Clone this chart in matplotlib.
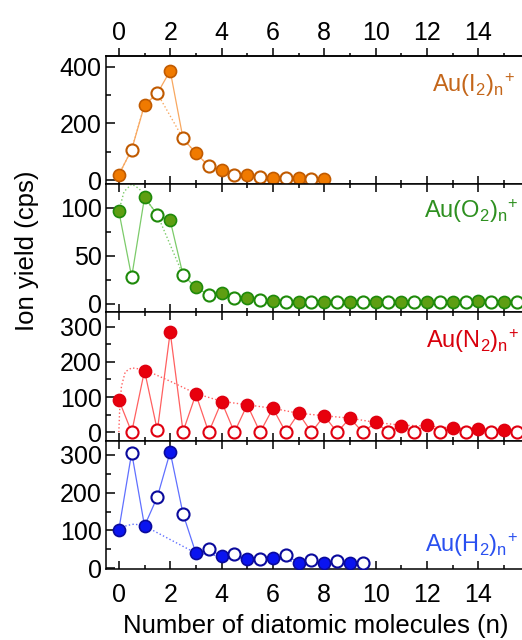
"""
Ion yield of Au cluster complexes vs number of diatomic molecules.
"""

import matplotlib.pyplot as plt

plt.rcParams["font.family"] = ["Liberation Sans", "DejaVu Sans"]
plt.rcParams["mathtext.fontset"] = "custom"
plt.rcParams["mathtext.rm"] = "Liberation Sans"
plt.rcParams["mathtext.it"] = "Liberation Sans"

# data (n in steps of 0.5; integer n filled, half-integer n open)
n_i2 = [0, 0.5, 1, 1.5, 2, 2.5, 3, 3.5, 4, 4.5, 5, 5.5, 6, 6.5, 7, 7.5, 8]
y_i2 = [19, 108, 265, 306, 386, 147, 95, 50, 37, 19, 17, 12, 8, 6, 6, 5, 4]
trend_i2_x = [0, 0.5, 1, 1.5, 2.5, 3, 3.5, 4, 4.5, 5, 5.5, 6, 6.5, 7, 7.5, 8]
trend_i2_y = [19, 108, 265, 306, 147, 95, 50, 37, 19, 17, 12, 8, 6, 6, 5, 4]

n_o2 = [0, 0.5, 1, 1.5, 2, 2.5, 3, 3.5, 4, 4.5, 5, 5.5, 6, 6.5, 7, 7.5, 8,
        8.5, 9, 9.5, 10, 10.5, 11, 11.5, 12, 12.5, 13, 13.5, 14, 14.5, 15, 15.5]
y_o2 = [96.5, 28, 111, 93, 87, 30, 17, 9.4, 11, 5.6, 5.9, 3.5, 3, 2, 2, 2, 2,
        2, 2, 2, 2, 2, 2, 2, 1.5, 2, 1.5, 2, 2.5, 2, 2, 2]
trend_o2_x = [0, 0.2, 0.5, 0.8, 1, 1.5, 2.5, 3, 3.5, 4, 4.5, 5, 5.5, 6, 7, 8,
              9, 10, 11, 12, 13, 14, 15, 15.5]
trend_o2_y = [96.5, 117, 125, 120, 111, 93, 30, 17, 9.4, 11, 5.6, 5.9, 3.5, 3,
              2, 2, 2, 2, 2, 1.5, 1.5, 2.5, 2, 2]

n_n2 = [0, 0.5, 1, 1.5, 2, 2.5, 3, 3.5, 4, 4.5, 5, 5.5, 6, 6.5, 7, 7.5, 8,
        8.5, 9, 9.5, 10, 10.5, 11, 11.5, 12, 12.5, 13, 13.5, 14, 14.5, 15, 15.5]
y_n2 = [92, 0, 175, 5, 285, 2, 108, 0, 87, 0, 78, 0, 68, 0, 54, 0, 47,
        0, 40, 0, 28, 0, 19, 0, 22, 0, 12, 0, 9, 0, 7, 0]
trend_n2_x = [0, 0.03, 0.1, 0.25, 0.5, 1, 2, 3, 4, 5, 6, 7, 8, 9, 10, 11, 12,
              13, 14, 15, 15.7]
trend_n2_y = [0, 60, 130, 172, 183, 178, 145, 110, 88, 78, 68, 54, 47, 40, 28,
              20, 18, 12, 9, 7, 5]

n_h2 = [0, 0.5, 1, 1.5, 2, 2.5, 3, 3.5, 4, 4.5, 5, 5.5, 6, 6.5, 7, 7.5, 8,
        8.5, 9, 9.5]
y_h2 = [102, 306, 112, 189, 308, 144, 40, 51, 32, 37, 24, 25, 27, 35, 15, 23,
        14, 18, 14, 14]
trend_h2_x = [0, 0.3, 0.6, 1, 3, 4, 5, 6, 7, 8, 9]
trend_h2_y = [102, 113, 117, 112, 40, 32, 24, 27, 15, 14, 14]

panels = [
    # n, y, trend x, trend y, fill, edge, line, text colour, label, ylim, yticks, minor step
    (n_i2, y_i2, trend_i2_x, trend_i2_y, "#F07A00", "#C05A00", "#F8A860",
     "#C4661A", r"Au(I$_2$)$_n$$^{\!+}$", (-14, 439), [0, 200, 400], 100),
    (n_o2, y_o2, trend_o2_x, trend_o2_y, "#5E9E12", "#1E8A0A", "#7CCB6A",
     "#2E9020", r"Au(O$_2$)$_n$$^{\!+}$", (-9, 125), [0, 50, 100], 25),
    (n_n2, y_n2, trend_n2_x, trend_n2_y, "#E8000C", "#E00010", "#FF6060",
     "#D8000C", r"Au(N$_2$)$_n$$^{\!+}$", (-24, 341), [0, 100, 200, 300], 50),
    (n_h2, y_h2, trend_h2_x, trend_h2_y, "#0A14F0", "#0A0A9C", "#6070FF",
     "#2A50F0", r"Au(H$_2$)$_n$$^{\!+}$", (-2, 338), [0, 100, 200, 300], 50),
]

W, H = 522, 640
fig = plt.figure(figsize=(W / 100, H / 100), dpi=100)

tops = [55.7, 184, 312.3, 440.6]
ph = 128.4
left = 106
label_pos = [(515, 92), (519, 218), (519, 348), (518, 552)]
TS = 18

for i, (n, y, tx, ty, fc, ec, lc, tc, label, ylim, yt, ymin) in enumerate(panels):
    ax = fig.add_axes([left / W, 1 - (tops[i] + ph) / H, (W - left) / W, ph / H])
    ax.plot(n, y, "-", color=lc, lw=0.9, zorder=2)
    ax.plot(tx, ty, ":", color=lc, lw=1.0, zorder=2)
    filled_x = [a for a in n if a == int(a)]
    filled_y = [b for a, b in zip(n, y) if a == int(a)]
    open_x = [a for a in n if a != int(a)]
    open_y = [b for a, b in zip(n, y) if a != int(a)]
    ax.plot(filled_x, filled_y, "o", ms=8.7, mfc=fc, mec=ec, mew=1.2, zorder=3)
    ax.plot(open_x, open_y, "o", ms=8.7, mfc="white", mec=ec, mew=1.5, zorder=3)

    ax.set_xlim(-0.5, 15.7)
    ax.set_ylim(*ylim)
    ax.set_xticks(range(0, 16, 2))
    ax.set_xticks(range(0, 16), minor=True)
    ax.set_yticks(yt)
    ax.set_yticks([v + ymin for v in range(0, int(ylim[1]), ymin)
                   if v + ymin < ylim[1]], minor=True)
    ax.spines["right"].set_visible(False)
    for sp in ax.spines.values():
        sp.set_linewidth(1.1)
    ax.tick_params(axis="y", which="both", direction="in", labelsize=TS,
                   width=1.1, right=False, pad=3)
    ax.tick_params(axis="y", which="major", length=6.5)
    ax.tick_params(axis="y", which="minor", length=3.5)
    ax.tick_params(axis="x", which="both", direction="in", labelsize=TS,
                   width=1.1, top=(i > 0), bottom=True, labelbottom=(i == 3),
                   pad=10)
    ax.tick_params(axis="x", which="major", length=6)
    ax.tick_params(axis="x", which="minor", length=3)
    if i == 0:
        top = ax.secondary_xaxis("top")
        top.set_xticks(range(0, 16, 2))
        top.set_xticks(range(0, 16), minor=True)
        top.tick_params(which="both", direction="out", labelsize=TS, width=1.1,
                        pad=2)
        top.tick_params(which="major", length=6)
        top.tick_params(which="minor", length=2.5)
        top.spines["top"].set_linewidth(1.1)

    lx, ly = label_pos[i]
    fig.text(lx / W, 1 - ly / H, label, color=tc, fontsize=17,
             ha="right", va="baseline")

fig.text(27 / W, 1 - 251 / H, "Ion yield (cps)", rotation=90, fontsize=18.5,
         ha="center", va="center")
fig.text(316 / W, 1 - 626 / H, "Number of diatomic molecules (n)",
         fontsize=18.5, ha="center", va="center")

fig.savefig("out.png", dpi=100)
